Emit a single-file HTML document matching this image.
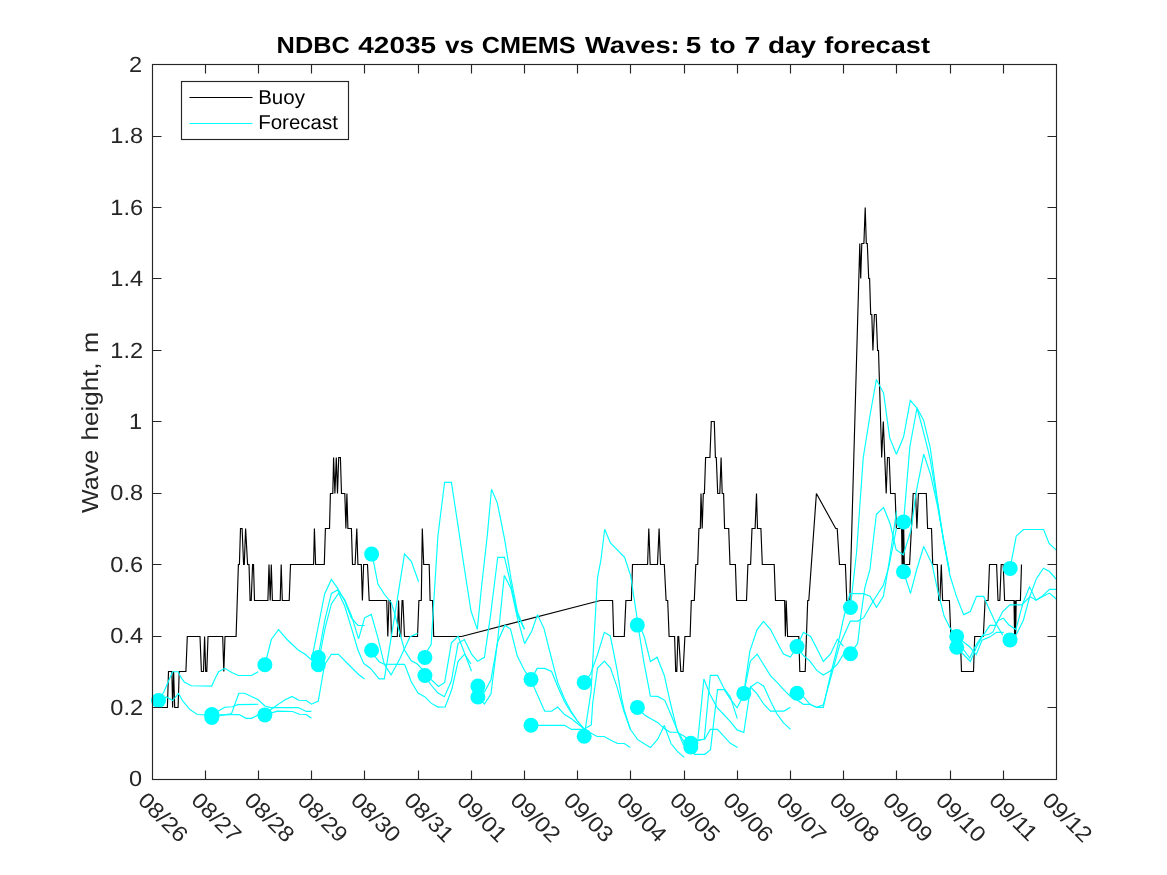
<!DOCTYPE html>
<html lang="en">
<head>
<meta charset="utf-8">
<title>NDBC 42035 vs CMEMS Waves: 5 to 7 day forecast</title>
<style>
html,body{margin:0;padding:0;background:#ffffff;}
body{width:1167px;height:875px;overflow:hidden;font-family:"Liberation Sans",sans-serif;}
svg{display:block;will-change:transform;}
text{text-rendering:geometricPrecision;}
</style>
</head>
<body>
<svg width="1167" height="875" viewBox="0 0 1167 875">
<rect x="0" y="0" width="1167" height="875" fill="#ffffff"/>
<g fill="none" stroke-linejoin="miter" stroke-miterlimit="2.5" stroke-linecap="butt">
<polyline stroke="#000000" stroke-width="1.15" points="152.5,707.5 167.4,707.5 168.5,671.5 171.9,671.5 172.6,707.5 173.6,671.5 174.7,707.5 178.1,707.5 179.2,671.5 185.9,671.5 187.3,636.5 200.0,636.5 201.4,671.5 203.5,671.5 204.6,636.5 205.7,671.5 206.8,671.5 208.0,636.5 222.7,636.5 223.8,671.5 225.0,636.5 236.1,636.5 238.4,564.5 239.4,564.5 240.5,528.5 242.1,528.5 243.6,564.5 244.3,564.5 245.6,528.5 247.6,564.5 249.0,564.5 250.1,600.5 251.2,600.5 252.6,564.5 253.5,564.5 254.5,600.5 267.9,600.5 269.0,564.5 270.2,600.5 271.3,564.5 272.4,600.5 280.2,600.5 281.2,564.5 282.3,600.5 289.2,600.5 290.5,564.5 313.6,564.5 314.4,528.5 315.6,564.5 324.3,564.5 325.4,528.5 329.5,528.5 330.4,493.5 332.8,493.5 333.6,457.5 334.9,493.5 336.3,457.5 337.5,493.5 338.7,457.5 340.4,457.5 341.5,493.5 344.8,493.5 345.9,528.5 346.9,493.5 347.9,528.5 351.4,528.5 352.5,564.5 355.1,564.5 356.8,528.5 357.9,564.5 361.3,564.5 362.4,600.5 363.6,564.5 367.5,564.5 369.2,600.5 386.7,600.5 387.8,636.5 389.0,600.5 390.4,600.5 391.5,636.5 397.3,636.5 398.6,600.5 399.7,636.5 400.8,636.5 402.1,600.5 402.9,600.5 404.5,636.5 417.5,636.5 418.9,600.5 421.3,600.5 422.3,528.5 423.7,564.5 429.2,564.5 430.1,600.5 432.6,600.5 433.7,636.5 461.5,636.5 600.3,600.5 612.6,600.5 613.7,636.5 624.3,636.5 625.9,600.5 631.4,600.5 632.5,564.5 647.6,564.5 648.8,528.5 650.2,564.5 657.5,564.5 659.1,528.5 660.5,564.5 664.3,564.5 666.1,600.5 667.7,600.5 669.1,636.5 674.6,636.5 675.7,671.5 676.8,671.5 677.9,636.5 678.7,636.5 680.8,671.5 683.1,671.5 684.9,636.5 690.1,636.5 691.3,600.5 694.3,600.5 695.8,564.5 697.7,564.5 698.9,528.5 700.3,528.5 701.0,493.5 702.2,528.5 703.3,493.5 704.4,493.5 705.6,457.5 709.9,457.5 711.3,421.5 714.3,421.5 715.4,457.5 716.3,457.5 717.7,493.5 719.8,493.5 721.1,457.5 722.2,493.5 723.6,493.5 724.6,528.5 728.7,528.5 730.0,564.5 735.4,564.5 736.6,600.5 746.5,600.5 747.9,564.5 750.6,564.5 752.0,528.5 755.1,528.5 756.5,493.5 757.5,528.5 760.9,528.5 762.3,564.5 774.2,564.5 775.5,600.5 784.6,600.5 785.4,636.5 786.2,600.5 787.6,636.5 798.8,636.5 799.8,671.5 805.2,671.5 807.7,600.5 808.8,600.5 816.4,493.5 835.7,528.5 837.2,528.5 839.5,564.5 845.4,564.5 846.8,600.5 849.8,600.5 859.8,243.5 860.7,278.5 861.8,243.5 863.9,243.5 865.2,207.5 866.3,243.5 867.3,243.5 868.7,278.5 869.6,278.5 870.7,314.5 871.8,314.5 872.9,350.5 874.4,314.5 876.2,314.5 877.6,350.5 878.5,350.5 881.7,457.5 883.3,421.5 886.2,493.5 887.5,457.5 889.2,457.5 890.6,493.5 895.1,493.5 896.4,528.5 901.6,528.5 902.1,564.5 902.7,528.5 903.2,564.5 903.7,528.5 904.3,564.5 909.6,564.5 913.2,493.5 915.6,493.5 916.9,528.5 918.4,493.5 926.3,493.5 927.6,528.5 931.5,528.5 932.7,564.5 937.3,564.5 938.7,600.5 939.9,600.5 941.3,564.5 942.6,600.5 949.4,600.5 950.9,636.5 960.3,636.5 961.5,671.5 973.5,671.5 974.7,636.5 983.3,636.5 985.1,600.5 988.1,600.5 989.5,564.5 996.6,564.5 998.0,600.5 999.8,600.5 1001.2,564.5 1003.2,564.5 1004.6,600.5 1014.0,600.5 1014.6,636.5 1015.1,600.5 1015.6,636.5 1016.2,600.5 1020.4,600.5 1021.5,564.5"/>
<polyline stroke="#00ffff" stroke-width="1.15" points="158.5,700.5 163.7,692.3 167.8,682.7 172.6,671.7 178.1,671.7 180.8,677.2 184.3,682.0 191.1,685.8 211.7,686.1 215.1,678.6 218.6,671.7 224.7,668.3 232.3,672.8 238.4,675.5 251.5,675.5 258.3,671.7"/>
<polyline stroke="#00ffff" stroke-width="1.15" points="158.5,700.5 166.5,697.0 172.6,700.5 178.5,693.4 182.9,701.2 189.8,709.4 197.3,714.5 204.8,714.9 211.8,715.5 218.5,711.0 224.7,707.3 232.3,706.7 237.7,704.6 258.3,704.3"/>
<polyline stroke="#00ffff" stroke-width="1.15" points="211.8,714.5 221.3,714.9 239.1,714.5 246.0,718.3 251.5,718.3 258.3,714.9 264.9,714.9 277.5,711.2 292.6,711.5 299.4,714.2 306.3,714.5 311.4,718.2"/>
<polyline stroke="#00ffff" stroke-width="1.15" points="211.8,717.5 221.3,715.5 231.6,713.5 238.8,693.2 244.6,693.2 258.3,699.8 264.9,706.0 270.6,707.6 298.1,707.6 306.3,711.4 311.4,711.4"/>
<polyline stroke="#00ffff" stroke-width="1.15" points="264.9,664.8 271.3,639.5 278.5,629.6 287.1,639.5 298.1,650.0 304.8,654.0 311.6,660.0 324.7,593.7 331.4,579.5 338.0,588.8 344.7,600.8 351.3,618.0 358.0,625.5 364.8,625.5"/>
<polyline stroke="#00ffff" stroke-width="1.15" points="264.9,714.9 271.5,709.0 278.9,703.9 284.8,700.0 291.9,696.4 298.8,700.2 306.3,700.5 311.4,704.2 318.3,701.1 324.5,665.0 331.4,654.3 338.5,654.3 350.0,666.0 358.6,674.5 364.6,679.0"/>
<polyline stroke="#00ffff" stroke-width="1.15" points="318.0,657.5 325.2,618.3 331.4,593.4 337.5,590.1 344.7,599.8 351.3,615.2 358.6,638.9 364.6,617.8 371.3,614.4 377.9,637.9 384.3,664.3 391.1,674.9 399.7,659.1 410.0,636.8 417.7,633.4"/>
<polyline stroke="#00ffff" stroke-width="1.15" points="318.0,664.7 325.2,627.6 331.4,603.9 338.6,593.1 344.7,606.0 351.3,627.6 358.0,650.2 363.7,663.4 370.6,668.5 379.1,678.8 384.3,678.8 391.2,637.4 397.8,596.1 404.5,554.1 411.3,561.3 418.6,581.8"/>
<polyline stroke="#00ffff" stroke-width="1.15" points="371.2,554.1 373.6,562.0 377.9,584.0 384.5,594.5 391.2,602.5 394.5,612.8 397.8,626.0 404.5,650.0 411.3,660.8 417.0,663.8 422.1,669.0 425.0,675.5 430.8,679.3 438.6,686.5 444.7,682.4 451.4,642.8 458.1,636.3 471.5,671.3"/>
<polyline stroke="#00ffff" stroke-width="1.15" points="371.2,650.0 375.7,657.4 379.1,661.7 384.3,664.3 404.6,664.4 411.3,681.8 418.0,693.1 424.7,696.7 431.4,703.4 438.0,707.1 445.2,707.0 451.9,689.0 458.1,661.3 464.6,654.1 471.0,664.0"/>
<polyline stroke="#00ffff" stroke-width="1.15" points="424.4,657.4 427.8,650.0 431.1,644.5 437.9,536.0 444.6,482.3 451.4,482.3 457.9,524.8 464.3,568.0 471.0,611.0 477.3,629.4 481.2,590.0 487.4,534.4 491.5,489.2 497.3,502.9 504.5,538.6 510.9,578.0 517.5,612.0 524.4,629.2"/>
<polyline stroke="#00ffff" stroke-width="1.15" points="424.4,675.5 431.1,685.0 437.7,692.8 444.4,696.7 451.4,680.8 458.1,643.3 464.3,639.5 471.5,654.1 477.6,661.3 484.4,657.3 490.6,614.8 497.7,557.3 504.5,557.3 511.0,585.0 517.4,615.0 524.4,629.2"/>
<polyline stroke="#00ffff" stroke-width="1.15" points="477.9,686.0 484.4,692.0 490.9,680.0 497.6,642.0 504.8,625.4 510.5,629.0 517.3,656.0 524.5,670.5 531.0,679.4 537.2,668.4 544.7,668.4 551.6,671.5 557.7,686.5 564.6,702.0 570.7,712.0 577.4,721.0 584.2,729.0"/>
<polyline stroke="#00ffff" stroke-width="1.15" points="477.9,696.7 484.4,704.1 490.9,694.0 497.6,641.0 504.3,575.4 511.1,588.8 517.3,617.6 524.6,643.6 531.7,631.3 537.5,614.8 544.0,628.6 550.9,656.0 557.7,682.4 564.6,698.9 570.7,710.5 577.4,721.0 584.2,729.0"/>
<polyline stroke="#00ffff" stroke-width="1.15" points="531.0,679.4 534.4,687.9 537.5,695.0 544.7,711.2 551.6,711.2 557.7,707.1 564.6,714.6 571.5,718.8 577.4,723.5 584.2,729.0 591.3,724.9 592.7,703.0 597.5,668.0 604.4,661.2 610.5,668.0 617.0,686.8 623.8,711.0 630.3,729.0"/>
<polyline stroke="#00ffff" stroke-width="1.15" points="531.0,725.3 564.6,725.3 571.5,729.4 584.2,729.4 590.6,733.0 597.2,736.5 604.1,736.5 610.5,740.0 617.5,743.5 624.2,743.5 630.3,747.4"/>
<polyline stroke="#00ffff" stroke-width="1.15" points="584.2,682.4 590.6,674.0 597.5,654.6 604.3,632.3 610.3,635.9 617.0,669.4 621.6,698.1 624.2,710.0 630.2,729.0 637.5,739.4 643.8,743.5 650.4,747.6 657.6,739.4 664.3,725.5 671.0,743.5 677.6,751.7 684.3,757.4"/>
<polyline stroke="#00ffff" stroke-width="1.15" points="584.2,736.2 591.0,692.0 597.5,577.8 600.9,560.0 604.7,529.2 610.4,542.9 624.6,557.3 630.7,575.8 637.3,619.7 644.2,636.5 650.4,661.6 657.1,657.2 664.3,675.5 670.4,703.0 677.1,730.1 683.3,744.5 690.8,745.0"/>
<polyline stroke="#00ffff" stroke-width="1.15" points="637.3,625.1 639.1,632.3 643.7,661.1 650.4,696.1 657.6,696.4 664.8,700.3 671.0,714.7 677.6,731.1 684.3,742.4 690.8,745.0 697.0,741.0 704.3,739.0 710.3,675.4 717.5,675.4 723.7,687.8 730.4,697.0 737.3,718.6"/>
<polyline stroke="#00ffff" stroke-width="1.15" points="637.5,707.5 644.2,714.7 650.4,718.5 657.6,722.4 664.3,728.6 669.9,732.2 677.1,732.2 684.3,736.3 690.3,742.0 699.5,739.7 704.7,739.2 710.3,729.4 717.5,729.4 723.7,736.1 730.4,743.3 737.6,747.4"/>
<polyline stroke="#00ffff" stroke-width="1.15" points="690.8,746.9 697.0,748.0 703.9,679.0 709.8,693.9 717.0,707.3 723.7,714.5 730.4,721.7 737.1,729.9 743.8,732.5 750.6,687.0 757.1,693.9 763.8,704.2 770.5,711.1 783.9,711.1 790.5,707.3"/>
<polyline stroke="#00ffff" stroke-width="1.15" points="690.8,743.3 694.6,754.3 704.9,754.3 710.5,749.6 717.5,689.6 724.2,689.6 730.4,699.1 737.1,707.8 743.8,695.0 751.0,686.7 757.6,682.1 763.8,686.2 770.5,701.1 776.7,713.5 783.3,722.7 790.5,729.4"/>
<polyline stroke="#00ffff" stroke-width="1.15" points="743.8,693.4 749.8,651.4 757.0,629.8 763.5,621.3 770.4,629.3 777.1,642.2 783.4,654.0 790.4,657.1 797.1,646.6 803.4,632.3 810.6,636.5 816.7,648.3 823.4,661.5 830.5,654.0 837.4,639.2 843.5,646.3"/>
<polyline stroke="#00ffff" stroke-width="1.15" points="743.8,693.4 750.3,661.2 757.2,654.2 763.7,664.8 770.4,675.6 777.1,682.3 783.9,689.8 790.5,696.5 797.0,700.0 803.4,704.3 810.0,704.3 816.7,707.4 823.3,704.8 831.5,675.0 839.7,644.9 850.3,621.1 858.0,621.1 863.7,617.7 873.0,601.3 883.3,585.3 888.5,568.4 896.5,528.0"/>
<polyline stroke="#00ffff" stroke-width="1.15" points="797.1,646.6 803.4,655.5 810.0,661.1 816.7,670.4 823.3,675.0 830.2,671.0 837.6,663.9 843.5,654.2 850.5,650.0 854.6,647.7 857.7,643.4 860.7,616.7 864.8,587.9 870.0,569.4 873.3,540.0 876.4,514.3 883.6,507.4 890.2,524.0 896.1,549.7 903.3,554.8 911.0,530.1 916.0,493.2 923.7,454.1 930.3,473.7 937.0,503.5 943.7,540.0 949.7,572.0"/>
<polyline stroke="#00ffff" stroke-width="1.15" points="797.0,693.2 803.4,696.6 810.0,704.3 816.7,707.4 823.3,707.4 830.2,676.0 836.6,650.5 843.3,619.5 849.9,593.6 863.3,593.6 870.0,596.1 876.5,607.4 883.3,596.6 885.4,584.8 889.8,558.0 896.5,511.2"/>
<polyline stroke="#00ffff" stroke-width="1.15" points="850.4,607.4 856.6,552.0 863.2,458.0 869.8,416.5 876.4,379.5 883.6,393.1 889.7,437.9 896.4,454.3 903.6,436.8 910.3,400.3 917.0,408.0 923.7,420.4 930.3,448.1 937.0,497.0 943.5,540.0 949.7,572.0"/>
<polyline stroke="#00ffff" stroke-width="1.15" points="903.6,522.0 909.8,447.0 917.0,408.0 923.1,430.7 928.3,451.2 930.3,460.0 937.0,500.0 943.5,541.0 949.8,575.0 956.5,596.6 963.7,614.6 970.3,611.5 976.5,596.4 983.7,596.4 989.4,609.4 996.0,623.8 1002.7,635.2"/>
<polyline stroke="#00ffff" stroke-width="1.15" points="903.5,571.8 910.5,593.4 916.6,570.0 923.7,546.4 932.1,564.1 937.3,588.8 944.1,616.1 950.3,628.5 957.0,636.2 963.0,641.5 969.8,647.0 976.2,654.6 982.0,640.2 989.6,637.1 996.4,632.3 1003.6,632.3"/>
<polyline stroke="#00ffff" stroke-width="1.15" points="956.6,647.4 963.5,654.5 970.4,661.4 976.5,647.0 982.0,637.1 989.9,625.4 995.5,625.4 1002.7,611.5 1009.9,604.8 1022.3,604.8 1029.5,586.8 1036.1,600.2 1042.8,595.6 1049.5,589.4 1056.2,589.4"/>
<polyline stroke="#00ffff" stroke-width="1.15" points="956.6,640.0 963.0,649.0 969.7,658.0 976.0,645.0 982.0,636.0 989.6,634.0 993.0,631.9 997.8,620.6 1003.3,618.2 1008.7,624.7 1015.9,629.5 1022.8,603.8 1030.0,596.6 1036.1,600.2 1042.8,596.5 1049.5,593.1 1056.2,599.0"/>
<polyline stroke="#00ffff" stroke-width="1.15" points="1010.2,568.3 1011.7,559.8 1016.2,536.2 1023.4,529.5 1043.6,529.5 1049.1,543.4 1056.3,550.2"/>
<polyline stroke="#00ffff" stroke-width="1.15" points="1009.9,640.0 1016.6,634.0 1023.3,620.5 1029.6,597.0 1036.3,578.9 1043.4,568.3 1049.5,571.5 1056.5,579.5"/>
</g>
<g fill="#00ffff" stroke="none">
<circle cx="158.5" cy="700.5" r="7.5"/>
<circle cx="211.8" cy="714.5" r="7.5"/>
<circle cx="211.8" cy="717.5" r="7.5"/>
<circle cx="264.9" cy="664.8" r="7.5"/>
<circle cx="264.9" cy="714.9" r="7.5"/>
<circle cx="318.3" cy="657.5" r="7.5"/>
<circle cx="318.3" cy="664.7" r="7.5"/>
<circle cx="371.6" cy="554.1" r="7.5"/>
<circle cx="371.6" cy="650.2" r="7.5"/>
<circle cx="424.9" cy="657.4" r="7.5"/>
<circle cx="424.9" cy="675.5" r="7.5"/>
<circle cx="477.9" cy="686.1" r="7.5"/>
<circle cx="477.9" cy="697.0" r="7.5"/>
<circle cx="531.0" cy="679.4" r="7.5"/>
<circle cx="531.0" cy="725.3" r="7.5"/>
<circle cx="584.2" cy="682.4" r="7.5"/>
<circle cx="584.2" cy="736.2" r="7.5"/>
<circle cx="637.3" cy="625.1" r="7.5"/>
<circle cx="637.4" cy="707.4" r="7.5"/>
<circle cx="690.8" cy="743.3" r="7.5"/>
<circle cx="690.8" cy="746.9" r="7.5"/>
<circle cx="743.8" cy="693.4" r="7.5"/>
<circle cx="797.0" cy="646.6" r="7.5"/>
<circle cx="797.0" cy="693.2" r="7.5"/>
<circle cx="850.5" cy="607.5" r="7.5"/>
<circle cx="850.5" cy="653.8" r="7.5"/>
<circle cx="903.6" cy="521.9" r="7.5"/>
<circle cx="903.5" cy="571.7" r="7.5"/>
<circle cx="956.7" cy="636.4" r="7.5"/>
<circle cx="956.7" cy="647.3" r="7.5"/>
<circle cx="1010.2" cy="568.4" r="7.5"/>
<circle cx="1010.0" cy="639.9" r="7.5"/>
</g>
<g stroke="#262626" stroke-width="1.15" fill="none">
<rect x="152.5" y="64.5" width="904.0" height="715.0"/>
<path d="M205.50,779.5v-9M205.50,64.5v9M258.50,779.5v-9M258.50,64.5v9M311.50,779.5v-9M311.50,64.5v9M364.50,779.5v-9M364.50,64.5v9M418.50,779.5v-9M418.50,64.5v9M471.50,779.5v-9M471.50,64.5v9M524.50,779.5v-9M524.50,64.5v9M577.50,779.5v-9M577.50,64.5v9M630.50,779.5v-9M630.50,64.5v9M684.50,779.5v-9M684.50,64.5v9M737.50,779.5v-9M737.50,64.5v9M790.50,779.5v-9M790.50,64.5v9M843.50,779.5v-9M843.50,64.5v9M896.50,779.5v-9M896.50,64.5v9M950.50,779.5v-9M950.50,64.5v9M1003.50,779.5v-9M1003.50,64.5v9M152.5,707.50h9M1056.5,707.50h-9M152.5,636.50h9M1056.5,636.50h-9M152.5,564.50h9M1056.5,564.50h-9M152.5,493.50h9M1056.5,493.50h-9M152.5,421.50h9M1056.5,421.50h-9M152.5,350.50h9M1056.5,350.50h-9M152.5,278.50h9M1056.5,278.50h-9M152.5,207.50h9M1056.5,207.50h-9M152.5,136.50h9M1056.5,136.50h-9"/>
</g>
<g font-family="Liberation Sans, sans-serif" fill="#262626" font-size="22.0">
<text transform="translate(128.9,786.20) scale(1.07,1)">0</text>
<text transform="translate(110.36,714.75) scale(1.07,1)">0.2</text>
<text transform="translate(110.36,643.30) scale(1.07,1)">0.4</text>
<text transform="translate(110.36,571.85) scale(1.07,1)">0.6</text>
<text transform="translate(110.36,500.40) scale(1.07,1)">0.8</text>
<text transform="translate(128.9,428.95) scale(1.07,1)">1</text>
<text transform="translate(110.36,357.50) scale(1.07,1)">1.2</text>
<text transform="translate(110.36,286.05) scale(1.07,1)">1.4</text>
<text transform="translate(110.36,214.60) scale(1.07,1)">1.6</text>
<text transform="translate(110.36,143.15) scale(1.07,1)">1.8</text>
<text transform="translate(128.9,71.70) scale(1.07,1)">2</text>
<text transform="translate(136.72,801.50) rotate(45) scale(1.085,1)">08/26</text>
<text transform="translate(189.91,801.50) rotate(45) scale(1.085,1)">08/27</text>
<text transform="translate(243.10,801.50) rotate(45) scale(1.085,1)">08/28</text>
<text transform="translate(296.29,801.50) rotate(45) scale(1.085,1)">08/29</text>
<text transform="translate(349.48,801.50) rotate(45) scale(1.085,1)">08/30</text>
<text transform="translate(402.67,801.50) rotate(45) scale(1.085,1)">08/31</text>
<text transform="translate(455.86,801.50) rotate(45) scale(1.085,1)">09/01</text>
<text transform="translate(509.05,801.50) rotate(45) scale(1.085,1)">09/02</text>
<text transform="translate(562.24,801.50) rotate(45) scale(1.085,1)">09/03</text>
<text transform="translate(615.43,801.50) rotate(45) scale(1.085,1)">09/04</text>
<text transform="translate(668.62,801.50) rotate(45) scale(1.085,1)">09/05</text>
<text transform="translate(721.81,801.50) rotate(45) scale(1.085,1)">09/06</text>
<text transform="translate(775.00,801.50) rotate(45) scale(1.085,1)">09/07</text>
<text transform="translate(828.19,801.50) rotate(45) scale(1.085,1)">09/08</text>
<text transform="translate(881.38,801.50) rotate(45) scale(1.085,1)">09/09</text>
<text transform="translate(934.57,801.50) rotate(45) scale(1.085,1)">09/10</text>
<text transform="translate(987.76,801.50) rotate(45) scale(1.085,1)">09/11</text>
<text transform="translate(1040.95,801.50) rotate(45) scale(1.085,1)">09/12</text>
</g>
<g font-family="Liberation Sans, sans-serif" fill="#262626" font-size="23.2">
<text transform="translate(98.3,512.99) rotate(-90) scale(1.0831,1)">Wave</text>
<text transform="translate(98.3,440.52) rotate(-90) scale(1.1216,1)">height,</text>
<text transform="translate(98.3,353.04) rotate(-90) scale(1.1001,1)">m</text>
</g>
<g font-family="Liberation Sans, sans-serif" fill="#000000" font-size="23.2" font-weight="bold">
<text transform="translate(276.60,53.0) scale(1.0942,1)">NDBC</text>
<text transform="translate(358.26,53.0) scale(1.2083,1)">42035</text>
<text transform="translate(445.09,53.0) scale(1.1238,1)">vs</text>
<text transform="translate(481.71,53.0) scale(1.0882,1)">CMEMS</text>
<text transform="translate(585.11,53.0) scale(1.1771,1)">Waves:</text>
<text transform="translate(685.85,53.0) scale(1.2018,1)">5</text>
<text transform="translate(710.35,53.0) scale(1.1546,1)">to</text>
<text transform="translate(744.46,53.0) scale(1.2350,1)">7</text>
<text transform="translate(767.90,53.0) scale(1.2030,1)">day</text>
<text transform="translate(824.33,53.0) scale(1.1707,1)">forecast</text>
</g>
<rect x="181.5" y="81.5" width="167" height="58" fill="#ffffff" stroke="#262626" stroke-width="1.15"/>
<path d="M189.5,97.5H252.5" stroke="#000000" stroke-width="1.15"/>
<path d="M189.5,123.5H252.5" stroke="#00ffff" stroke-width="1.15"/>
<g font-family="Liberation Sans, sans-serif" fill="#000000" font-size="20.0">
<text transform="translate(258.2,103.9) scale(1.025,1)">Buoy</text>
<text transform="translate(258.2,128.7) scale(1.025,1)">Forecast</text>
</g>
</svg>
</body>
</html>
